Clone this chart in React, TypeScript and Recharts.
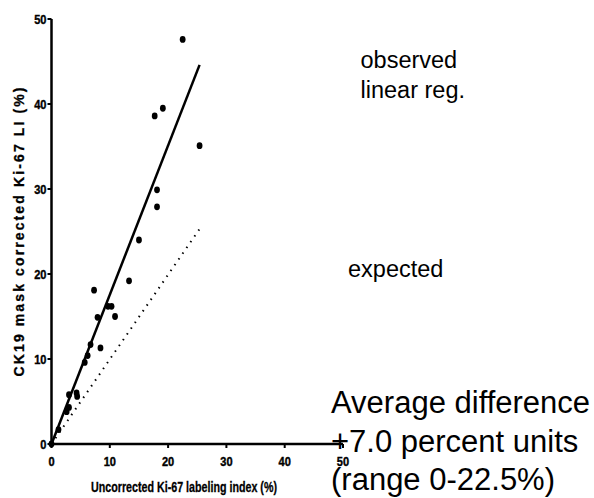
import React from 'react';
import { ScatterChart, Scatter, XAxis, YAxis } from 'recharts';

const xTicks = [0, 10, 20, 30, 40, 50];
const yTicks = [0, 10, 20, 30, 40, 50];

const observedX = [0, 1.2, 2.6, 3.0, 3.0, 4.3, 4.4, 5.7, 6.2, 6.7, 8.4, 7.9, 7.3, 9.7, 10.3, 10.9, 13.3, 15.0, 18.1, 18.1, 17.7, 19.1, 22.5, 25.4];
const observedY = [0, 1.7, 3.8, 4.3, 5.8, 6.0, 5.6, 9.6, 10.4, 11.7, 11.3, 14.9, 18.1, 16.2, 16.2, 15.0, 19.2, 24.0, 27.9, 29.9, 38.6, 39.5, 47.6, 35.1];

const regX = [0, 25.4];
const regY = [0, 44.6];

const expectedX = [0, 25.4];
const expectedY = [0, 25.3];

const xLabel = 'Uncorrected Ki-67 labeling index (%)';
const yLabel = 'CK19 mask corrected Ki-67 LI (%)';
const legendObserved = 'observed';
const legendReg = 'linear reg.';
const legendExpected = 'expected';
const noteLines = ['Average difference', '+7.0 percent units', '(range 0-22.5%)'];

const observed = observedX.map((x, i) => ({ x, y: observedY[i] }));
const reg = regX.map((x, i) => ({ x, y: regY[i] }));
const expected = expectedX.map((x, i) => ({ x, y: expectedY[i] }));

const FONT = '"Liberation Sans", Arial, sans-serif';

const XTick = (props: any) => {
  const { x, y, payload } = props;
  return (
    <g transform={`translate(${x},${y})`}>
      <text
        transform="scale(0.82,1)"
        textAnchor="middle"
        dy="0.71em"
        fontFamily={FONT}
        fontWeight="bold"
        fontSize={13.5}
        stroke="#000"
        strokeWidth={0.4}
        fill="#000"
      >
        {payload.value}
      </text>
    </g>
  );
};

const YTick = (props: any) => {
  const { x, y, payload } = props;
  return (
    <g transform={`translate(${x},${y})`}>
      <text
        transform="scale(0.82,1)"
        textAnchor="end"
        dy="0.36em"
        fontFamily={FONT}
        fontWeight="bold"
        fontSize={13.5}
        stroke="#000"
        strokeWidth={0.4}
        fill="#000"
      >
        {payload.value}
      </text>
    </g>
  );
};

const Dot = (props: any) => (
  <ellipse cx={props.cx} cy={props.cy} rx={2.9} ry={3.4} fill="#000" />
);
const NoDot = () => <g />;

export default function App() {
  return (
    <div style={{ position: 'absolute', left: 0, top: 0, width: 594, height: 498, background: '#fff' }}>
      <ScatterChart width={594} height={498} margin={{ top: 19, right: 251, bottom: 0, left: 0 }}>
        <XAxis
          type="number"
          dataKey="x"
          domain={[0, 50]}
          ticks={xTicks}
          interval={0}
          height={54}
          tick={XTick}
          tickSize={4}
          tickMargin={8}
          axisLine={{ stroke: '#000', strokeWidth: 2.5 }}
          tickLine={{ stroke: '#000', strokeWidth: 2 }}
        />
        <YAxis
          type="number"
          dataKey="y"
          domain={[0, 50]}
          ticks={yTicks}
          interval={0}
          width={51.5}
          tick={YTick}
          tickSize={4}
          tickMargin={1}
          axisLine={{ stroke: '#000', strokeWidth: 2.5 }}
          tickLine={{ stroke: '#000', strokeWidth: 2 }}
        />
        <Scatter
          data={expected}
          line={{ stroke: '#000', strokeWidth: 2, strokeDasharray: '1.5 5.5' }}
          shape={NoDot}
          isAnimationActive={false}
        />
        <Scatter
          data={reg}
          line={{ stroke: '#000', strokeWidth: 2.5 }}
          shape={NoDot}
          isAnimationActive={false}
        />
        <Scatter data={observed} shape={Dot} isAnimationActive={false} />
      </ScatterChart>
      <svg
        width={594}
        height={498}
        style={{ position: 'absolute', left: 0, top: 0, pointerEvents: 'none' }}
      >
        <text
          x={24}
          y={232}
          transform="rotate(-90, 24, 232)"
          textAnchor="middle"
          fontFamily={FONT}
          fontWeight="bold"
          fontSize={14}
          stroke="#000"
          strokeWidth={0.3}
          textLength={289}
          lengthAdjust="spacing"
          fill="#000"
        >
          {yLabel}
        </text>
        <text
          x={184}
          y={492}
          textAnchor="middle"
          fontFamily={FONT}
          fontWeight="bold"
          fontSize={15}
          stroke="#000"
          strokeWidth={0.3}
          textLength={186}
          lengthAdjust="spacingAndGlyphs"
          fill="#000"
        >
          {xLabel}
        </text>
        <g fontFamily={FONT} fill="#000">
          <text x={360.5} y={68} fontSize={23.5}>{legendObserved}</text>
          <text x={360.5} y={98} fontSize={23.5}>{legendReg}</text>
          <text x={348} y={277} fontSize={23.5}>{legendExpected}</text>
          {noteLines.map((t, i) => (
            <text key={t} x={331} y={413 + i * 38.5} fontSize={31}>{t}</text>
          ))}
        </g>
      </svg>
    </div>
  );
}
